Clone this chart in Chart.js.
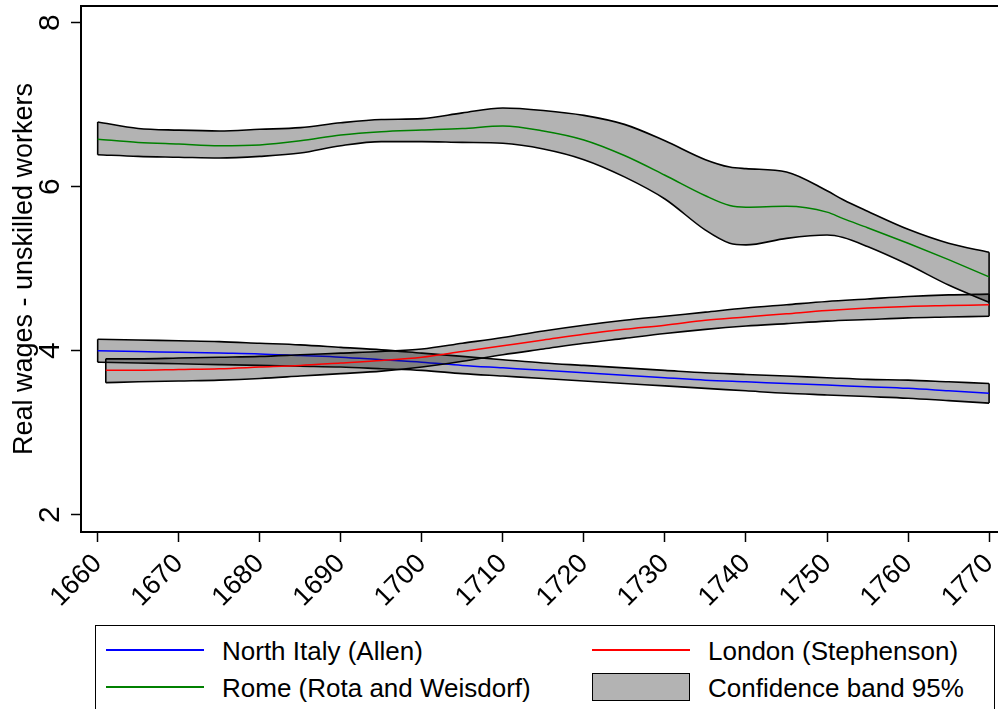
<!DOCTYPE html>
<html>
<head>
<meta charset="utf-8">
<script src="https://cdn.jsdelivr.net/npm/chart.js@4.4.0/dist/chart.umd.min.js"></script>
<style>
  body { margin: 0; background: #fff; width: 998px; height: 709px; overflow: hidden; position: relative;
         font-family: "Liberation Sans", Arial, Helvetica, sans-serif; }
  #wrap { position: absolute; left: 0; top: 0; width: 998px; height: 620px; }
  #legend { position: absolute; left: 95px; top: 625px; width: 900px; height: 110px; border: 1.5px solid #000; box-sizing: border-box; }
  .key { position: absolute; font-size: 26px; color: #000; white-space: nowrap; line-height: 30px; }
  .swatch { position: absolute; height: 2px; width: 98px; }
  .box { position: absolute; width: 96px; height: 26px; background: #b3b3b3; border: 1.5px solid #000; }
</style>
</head>
<body>
<div id="wrap"><canvas id="wageChart"></canvas></div>
<div id="legend">
  <div class="swatch" style="left:10px; top:23px; background:#0000ff"></div>
  <div class="key" style="left:126px; top:10px">North Italy (Allen)</div>
  <div class="swatch" style="left:496px; top:23px; background:#ff0000"></div>
  <div class="key" style="left:612px; top:10px">London (Stephenson)</div>
  <div class="swatch" style="left:10px; top:60px; background:#008000"></div>
  <div class="key" style="left:126px; top:47px">Rome (Rota and Weisdorf)</div>
  <div class="box" style="left:496px; top:47px"></div>
  <div class="key" style="left:612px; top:47px">Confidence band 95%</div>
</div>
<script>
// smoothed real wages of unskilled workers with 95% bands
const italyYears = [1660, 1665, 1670, 1675, 1680, 1685, 1690, 1695, 1700, 1705, 1710, 1715,
                    1720, 1725, 1730, 1735, 1740, 1745, 1750, 1755, 1760, 1765, 1770];
const italyWage  = [4.00, 3.99, 3.98, 3.97, 3.96, 3.94, 3.92, 3.89, 3.86, 3.82, 3.79, 3.76,
                    3.73, 3.70, 3.67, 3.64, 3.62, 3.60, 3.58, 3.56, 3.54, 3.51, 3.48];
const italyHigh  = [4.14, 4.13, 4.12, 4.11, 4.09, 4.07, 4.04, 4.01, 3.97, 3.93, 3.89, 3.85,
                    3.82, 3.79, 3.76, 3.73, 3.71, 3.69, 3.67, 3.65, 3.64, 3.62, 3.60];
const italyLow   = [3.86, 3.85, 3.84, 3.83, 3.82, 3.81, 3.80, 3.78, 3.76, 3.72, 3.69, 3.66,
                    3.63, 3.60, 3.57, 3.54, 3.51, 3.48, 3.46, 3.44, 3.42, 3.39, 3.36];

const londonYears = [1661, 1665, 1670, 1675, 1680, 1685, 1690, 1695, 1700, 1705, 1710, 1715,
                     1720, 1725, 1730, 1735, 1740, 1745, 1750, 1755, 1760, 1765, 1770];
const londonWage  = [3.76, 3.76, 3.77, 3.78, 3.80, 3.82, 3.85, 3.88, 3.92, 3.99, 4.06, 4.13,
                     4.20, 4.26, 4.31, 4.37, 4.41, 4.45, 4.49, 4.52, 4.54, 4.55, 4.56];
const londonHigh  = [3.90, 3.90, 3.91, 3.92, 3.93, 3.95, 3.97, 3.99, 4.02, 4.09, 4.16, 4.24,
                     4.31, 4.37, 4.42, 4.47, 4.52, 4.56, 4.60, 4.63, 4.66, 4.68, 4.69];
const londonLow   = [3.61, 3.62, 3.63, 3.64, 3.66, 3.69, 3.72, 3.75, 3.80, 3.87, 3.95, 4.02,
                     4.09, 4.15, 4.21, 4.26, 4.30, 4.33, 4.36, 4.38, 4.40, 4.41, 4.42];

const romeYears = [1660, 1665, 1670, 1675, 1680, 1685, 1690, 1695, 1700, 1705, 1710, 1715, 1720,
                   1725, 1730, 1735, 1738, 1740, 1745, 1750, 1752, 1755, 1760, 1765, 1770];
const romeWage  = [6.58, 6.54, 6.52, 6.50, 6.51, 6.56, 6.63, 6.67, 6.69, 6.71, 6.74, 6.68, 6.57,
                   6.38, 6.14, 5.89, 5.77, 5.75, 5.76, 5.69, 5.61, 5.50, 5.31, 5.11, 4.90];
const romeHigh  = [6.79, 6.71, 6.69, 6.68, 6.70, 6.72, 6.78, 6.82, 6.83, 6.90, 6.96, 6.93, 6.87,
                   6.76, 6.56, 6.33, 6.24, 6.22, 6.18, 5.95, 5.84, 5.70, 5.48, 5.31, 5.20];
const romeLow   = [6.39, 6.37, 6.36, 6.35, 6.37, 6.41, 6.50, 6.55, 6.55, 6.54, 6.53, 6.46, 6.33,
                   6.12, 5.85, 5.47, 5.31, 5.29, 5.37, 5.41, 5.38, 5.27, 5.05, 4.80, 4.59];

const yearTicks = [1660, 1670, 1680, 1690, 1700, 1710, 1720, 1730, 1740, 1750, 1760, 1770];
const wageTicks = [2, 4, 6, 8];

const BAND_FILL = 'rgba(20,20,20,0.32)';
const FONT = '"Liberation Sans", Arial, Helvetica, sans-serif';

function pts(xs, ys) {
    return xs.map((x, i) => ({ x: x, y: ys[i] }));
}

// upper edge (filled down to lower edge), lower edge, end caps, then the fitted line
function series(xs, mid, hi, lo, color, base, order) {
    const n = xs.length - 1;
    const edge = {
        pointRadius: 0, borderColor: '#000', borderWidth: 1.6,
        cubicInterpolationMode: 'monotone', order: order + 1
    };
    return [
        Object.assign({ data: pts(xs, hi), fill: { target: base + 1 }, backgroundColor: BAND_FILL }, edge),
        Object.assign({ data: pts(xs, lo), fill: false }, edge),
        {
            data: [{ x: xs[0], y: lo[0] }, { x: xs[0], y: hi[0] }, { x: xs[0], y: null },
                   { x: xs[n], y: lo[n] }, { x: xs[n], y: hi[n] }],
            pointRadius: 0, borderColor: '#000', borderWidth: 1.6, fill: false,
            spanGaps: false, tension: 0, order: order + 1
        },
        {
            data: pts(xs, mid), pointRadius: 0, borderColor: color, borderWidth: 1.5,
            fill: false, cubicInterpolationMode: 'monotone', order: order
        }
    ];
}

const datasets = []
    .concat(series(italyYears, italyWage, italyHigh, italyLow, '#0000ff', 0, 4))
    .concat(series(londonYears, londonWage, londonHigh, londonLow, '#ff0000', 4, 2))
    .concat(series(romeYears, romeWage, romeHigh, romeLow, '#008000', 8, 0));

// top edge of the plot region
const topFrame = {
    id: 'topFrame',
    afterDraw(chart) {
        const a = chart.chartArea, ctx = chart.ctx;
        ctx.save();
        ctx.strokeStyle = '#000';
        ctx.lineWidth = 2;
        ctx.beginPath();
        ctx.moveTo(a.left - 1, a.top);
        ctx.lineTo(chart.width, a.top);
        ctx.stroke();
        ctx.restore();
    }
};

new Chart(document.getElementById('wageChart'), {
    type: 'line',
    data: { datasets: datasets },
    plugins: [topFrame],
    options: {
        responsive: true,
        maintainAspectRatio: false,
        animation: false,
        events: [],
        layout: { padding: { top: 6, left: 0, right: 0, bottom: 0 } },
        plugins: {
            legend: { display: false },
            tooltip: { enabled: false },
            filler: { drawTime: 'beforeDatasetDraw' }
        },
        scales: {
            x: {
                type: 'linear',
                min: 1657.94,
                max: 1771.1,
                afterBuildTicks: s => { s.ticks = yearTicks.map(v => ({ value: v })); },
                afterFit: s => { s.height = 88; s.paddingLeft = 0; s.paddingRight = 0; },
                border: { display: true, color: '#000', width: 2 },
                grid: { display: true, drawOnChartArea: false, tickLength: 10, tickColor: '#000', tickWidth: 1.5 },
                ticks: {
                    autoSkip: false, minRotation: 45, maxRotation: 45, padding: 6,
                    color: '#000', font: { family: FONT, size: 27 },
                    callback: v => String(v)
                }
            },
            y: {
                min: 1.788,
                max: 8.204,
                afterBuildTicks: s => { s.ticks = wageTicks.map(v => ({ value: v })); },
                afterFit: s => { s.width = 81; s.paddingTop = 0; s.paddingBottom = 0; },
                border: { display: true, color: '#000', width: 2 },
                grid: { display: true, drawOnChartArea: false, tickLength: 10, tickColor: '#000', tickWidth: 1.5 },
                ticks: {
                    minRotation: 90, maxRotation: 90, crossAlign: 'center', padding: 12,
                    color: '#000', font: { family: FONT, size: 30 },
                    callback: v => String(v)
                },
                title: {
                    display: true, text: 'Real wages - unskilled workers',
                    color: '#000', font: { family: FONT, size: 27 },
                    padding: { top: 8, bottom: 0 }
                }
            }
        }
    }
});
</script>
</body>
</html>
